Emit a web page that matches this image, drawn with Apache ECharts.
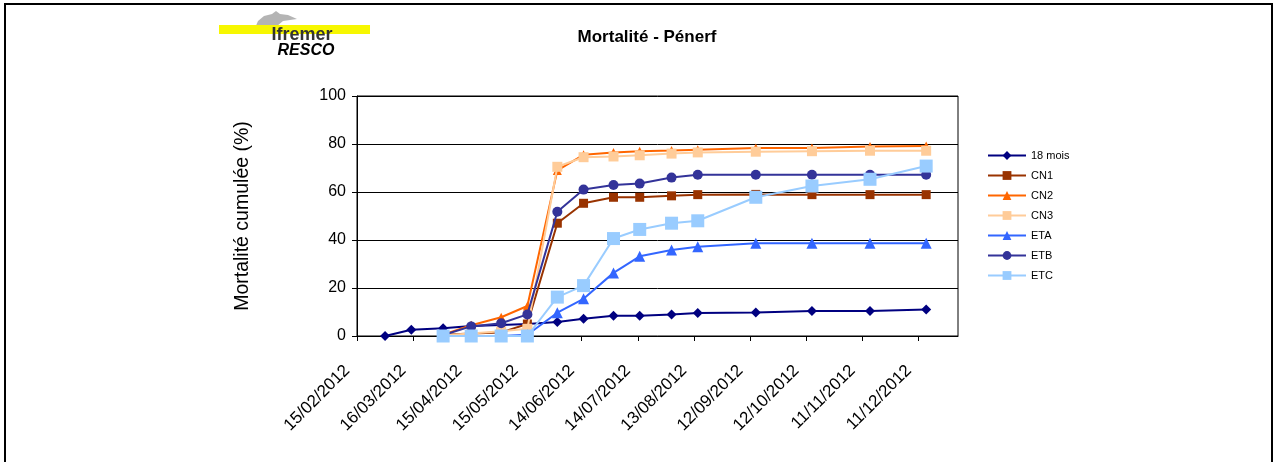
<!DOCTYPE html>
<html>
<head>
<meta charset="utf-8">
<script src="https://cdn.jsdelivr.net/npm/echarts@6/dist/echarts.min.js"></script>
<style>
html,body{margin:0;padding:0;background:#fff;}
#c{width:1274px;height:462px;}
</style>
</head>
<body>
<div id="c"></div>
<script>
// ---- data ----
const axisStart = '2012-02-15';
const axisEnd = '2013-01-01';
const tickDates = ['2012-02-15','2012-03-16','2012-04-15','2012-05-15','2012-06-14','2012-07-14','2012-08-13','2012-09-12','2012-10-12','2012-11-11','2012-12-11'];
const dates = ['2012-03-01','2012-03-15','2012-04-01','2012-04-16','2012-05-02','2012-05-16','2012-06-01','2012-06-15','2012-07-01','2012-07-15','2012-08-01','2012-08-15','2012-09-15','2012-10-15','2012-11-15','2012-12-15'];
const s18mois = [0, 2.6, 3.2, 4.2, 4.6, 5.0, 5.8, 7.2, 8.4, 8.4, 9.0, 9.6, 9.8, 10.4, 10.4, 11.0];
const sCN1 = [null, null, 0.5, 1.0, 1.5, 5.0, 47.0, 55.3, 57.8, 57.8, 58.4, 58.9, 59.0, 58.9, 58.9, 58.9];
const sCN2 = [null, null, 0.5, 4.5, 7.8, 12.5, 69.0, 75.5, 76.5, 77.0, 77.3, 77.6, 78.3, 78.3, 79.0, 79.2];
const sCN3 = [null, null, 0.3, 1.0, 2.0, 3.0, 70.5, 74.5, 74.8, 75.3, 76.0, 76.5, 76.8, 77.0, 77.2, 77.2];
const sETA = [null, null, 0, 0, 0, 0.5, 9.7, 15.5, 26.3, 33.2, 35.8, 37.2, 38.6, 38.6, 38.6, 38.6];
const sETB = [null, null, 0.4, 4.0, 5.3, 9.0, 51.8, 61.0, 62.9, 63.5, 66.0, 67.2, 67.2, 67.2, 67.2, 67.2];
const sETC = [null, null, 0, 0, 0, 0, 16.2, 21.0, 40.6, 44.4, 47.0, 48.0, 57.8, 62.5, 65.3, 70.8];
const seriesNames = ['18 mois','CN1','CN2','CN3','ETA','ETB','ETC'];

// ---- helpers ----
const DAY = 86400000;
function toDay(s){ const p = s.split('-').map(Number); return Math.round((Date.UTC(p[0],p[1]-1,p[2]) - Date.UTC(2012,1,15)) / DAY); }
function fmt(d){ const t = new Date(Date.UTC(2012,1,15) + d*DAY); const dd = String(t.getUTCDate()).padStart(2,'0'); const mm = String(t.getUTCMonth()+1).padStart(2,'0'); return dd + '/' + mm + '/' + t.getUTCFullYear(); }
const xDays = dates.map(toDay);
function pts(vals){ return vals.map((v,i)=>[xDays[i], v]); }

const FONT = 'Liberation Sans, Arial, sans-serif';
const styles = [
  {color:'#000080', symbol:'diamond', size:10},
  {color:'#993300', symbol:'rect', size:9},
  {color:'#FF6600', symbol:'triangle', size:9},
  {color:'#FFCC99', symbol:'rect', size:10},
  {color:'#3366FF', symbol:'triangle', size:11},
  {color:'#333399', symbol:'circle', size:10},
  {color:'#99CCFF', symbol:'rect', size:13}
];
const allVals = [s18mois, sCN1, sCN2, sCN3, sETA, sETB, sETC];

const chart = echarts.init(document.getElementById('c'), null, {renderer:'canvas'});
chart.setOption({
  animation:false,
  backgroundColor:'#fff',
  textStyle:{fontFamily:FONT},
  grid:{left:357, top:96, width:601, height:240, show:true, borderColor:'#000', borderWidth:1, backgroundColor:'transparent'},
  legend:{
    orient:'vertical', left:987, top:150, padding:0, itemWidth:38, itemHeight:11, itemGap:9,
    textStyle:{fontSize:11, color:'#000', fontFamily:FONT},
    data: seriesNames
  },
  xAxis:{
    type:'value', min:toDay(axisStart), max:toDay(axisEnd),
    axisLine:{lineStyle:{color:'#000', width:1}},
    axisTick:{show:true, inside:false, length:5, lineStyle:{color:'#000'}, customValues: tickDates.map(toDay)},
    axisLabel:{rotate:45, fontSize:17, color:'#000', margin:22, padding:[0,14,0,0], fontFamily:FONT, customValues: tickDates.map(toDay), formatter: v => fmt(v)},
    splitLine:{show:false}
  },
  yAxis:{
    type:'value', min:0, max:100, interval:20,
    name:'Mortalité cumulée (%)', nameLocation:'middle', nameRotate:90, nameGap:104,
    nameTextStyle:{fontSize:19.5, color:'#000', fontFamily:FONT},
    axisLine:{show:true, lineStyle:{color:'#000', width:1}},
    axisTick:{show:true, inside:false, length:5, lineStyle:{color:'#000'}},
    axisLabel:{fontSize:16, color:'#000', margin:11, fontFamily:FONT},
    splitLine:{show:true, lineStyle:{color:'#000', width:1}}
  },
  series: seriesNames.map((n,i)=>({
    name:n, type:'line', data:pts(allVals[i]),
    symbol:styles[i].symbol, symbolSize:styles[i].size, showAllSymbol:true,
    lineStyle:{color:styles[i].color, width:2},
    itemStyle:{color:styles[i].color, borderWidth:0},
    connectNulls:false, z:2+i
  })),
  graphic:[
    {type:'rect', shape:{x:5, y:4, width:1267, height:480}, style:{fill:'none', stroke:'#000', lineWidth:2}, silent:true},
    {type:'polygon', shape:{points:[[255,28],[258,21],[264,16],[272,14],[276,11],[280,14],[288,15],[297,19],[290,20],[283,21],[277,26],[269,30],[261,31]]}, style:{fill:'#B4B4B4'}, silent:true},
    {type:'rect', shape:{x:219, y:25, width:151, height:9}, style:{fill:'#F7F700'}, silent:true},
    {type:'text', style:{x:302, y:35, text:'Ifremer', font:'bold 18px ' + FONT, fill:'#333', textAlign:'center', textVerticalAlign:'middle'}, silent:true},
    {type:'text', style:{x:306, y:51, text:'RESCO', font:'italic bold 16px ' + FONT, fill:'#000', textAlign:'center', textVerticalAlign:'middle'}, silent:true},
    {type:'text', style:{x:647, y:37, text:'Mortalité - Pénerf', font:'bold 17px ' + FONT, fill:'#000', textAlign:'center', textVerticalAlign:'middle'}, silent:true}
  ]
});
</script>
</body>
</html>
